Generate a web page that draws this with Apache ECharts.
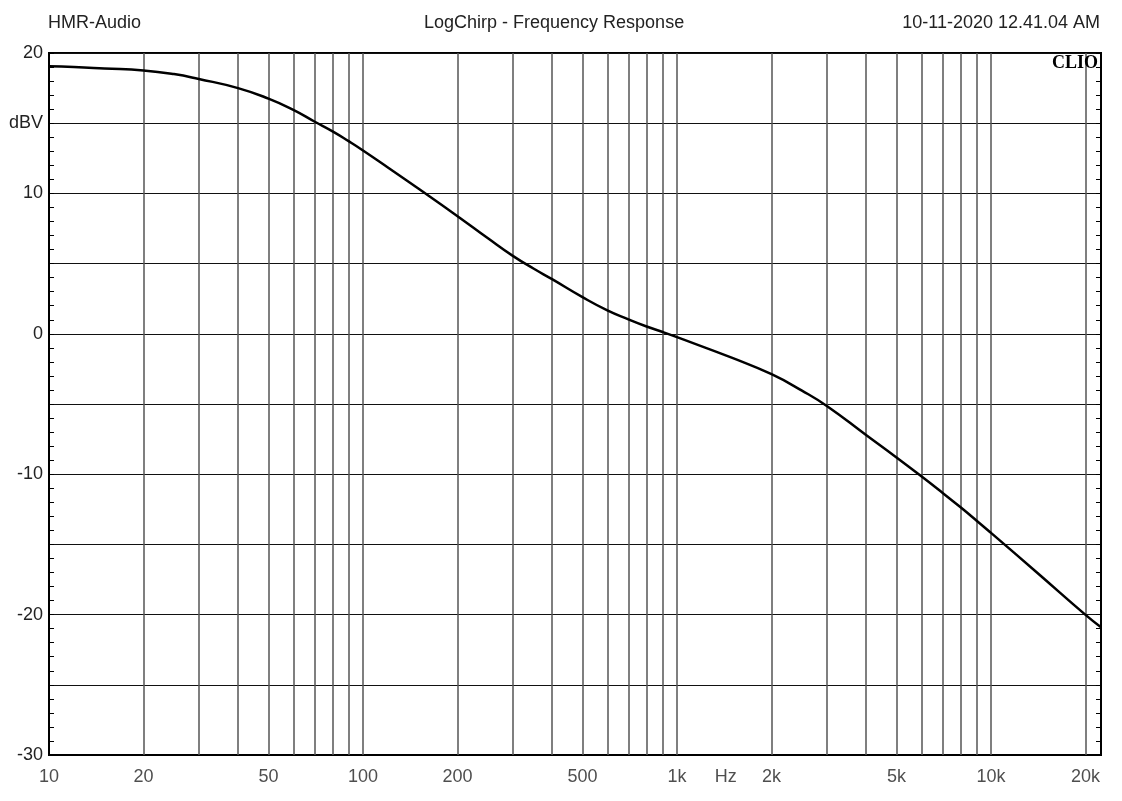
<!DOCTYPE html>
<html><head><meta charset="utf-8">
<script src="https://cdn.jsdelivr.net/npm/echarts@6/dist/echarts.min.js"></script>
<style>html,body{margin:0;padding:0;background:#fff}#c{width:1122px;height:801px}</style>
</head><body><div id="c"></div>
<script>
// Measured response (Hz, dBV)
const freqHz = [10, 12, 15, 20, 25, 30, 40, 50, 60, 70, 80, 90, 100, 120, 150, 200, 250, 300, 350, 400, 500, 600, 700, 800, 900, 1000, 1500, 2000, 2500, 3000, 4000, 5000, 6000, 7000, 8000, 9000, 10000, 14000, 20000, 22400];
const levelDbv = [19.05, 19.0, 18.9, 18.76, 18.5, 18.15, 17.5, 16.75, 15.95, 15.12, 14.42, 13.72, 13.06, 11.85, 10.35, 8.38, 6.8, 5.55, 4.63, 3.89, 2.61, 1.67, 1.03, 0.52, 0.13, -0.24, -1.72, -2.88, -4.05, -5.14, -7.21, -8.81, -10.15, -11.32, -12.36, -13.31, -14.18, -17.0, -20.02, -20.9];

// Axis decorations
const gridFreqs = [20, 30, 40, 50, 60, 70, 80, 90, 100, 200, 300, 400, 500, 600, 700, 800, 900, 1000, 2000, 3000, 4000, 5000, 6000, 7000, 8000, 9000, 10000, 20000];
const xTickFreqs = [10, 20, 50, 100, 200, 500, 1000, 2000, 5000, 10000, 20000];
const xTickLabels = ['10', '20', '50', '100', '200', '500', '1k', '2k', '5k', '10k', '20k'];
const xUnitLabel = 'Hz';
const xUnitFreq = 1430;
const yTickValues = [20, 15, 10, 0, -10, -20, -30];
const yTickLabels = ['20', 'dBV', '10', '0', '-10', '-20', '-30'];
const titleLeft = 'HMR-Audio';
const titleCenter = 'LogChirp - Frequency Response';
const titleRight = '10-11-2020 12.41.04 AM';
const brand = 'CLIO';

const FONT = "'Liberation Sans', Arial, sans-serif";
const TXT = '#222';

const chart = echarts.init(document.getElementById('c'), null, {renderer: 'canvas'});

const labelPoints = xTickFreqs.map((f, i) => ({value: [f, -30], name: xTickLabels[i]}));
labelPoints.push({value: [xUnitFreq, -30], name: xUnitLabel});

function yFmt(v) {
  const i = yTickValues.indexOf(Math.round(v));
  return i >= 0 ? yTickLabels[i] : '';
}

const yCommon = {
  type: 'value', min: -30, max: 20, interval: 5,
  axisLine: {show: true, onZero: false, lineStyle: {color: '#000', width: 2}},
  axisTick: {show: true, inside: true, length: 5, lineStyle: {color: '#000'}},
  minorTick: {show: true, splitNumber: 5, length: 5, lineStyle: {color: '#000', width: 1}}
};

const option = {
  animation: false,
  backgroundColor: '#fff',
  textStyle: {fontFamily: FONT},
  grid: {left: 49, top: 53, width: 1052, height: 702, show: true, borderColor: '#000', borderWidth: 2, containLabel: false},
  graphic: [
    {type: 'text', left: 48, top: 14, style: {text: titleLeft, font: '18px ' + FONT, fill: TXT}},
    {type: 'text', left: 424, top: 14, style: {text: titleCenter, font: '18px ' + FONT, fill: TXT}},
    {type: 'text', right: 22, top: 14, style: {text: titleRight, font: '18px ' + FONT, fill: TXT}},
    {type: 'text', right: 24, top: 54, z: 100, style: {text: brand, font: 'bold 18px "Liberation Serif", "Times New Roman", serif', fill: '#000'}}
  ],
  xAxis: {
    type: 'log', logBase: 10, min: 10, max: 22400,
    axisLabel: {show: false}, axisTick: {show: false}, splitLine: {show: false},
    axisLine: {show: true, onZero: false, lineStyle: {color: '#000', width: 2}}
  },
  yAxis: [
    Object.assign({}, yCommon, {
      position: 'left',
      axisLabel: {show: true, formatter: yFmt, color: TXT, fontSize: 18, fontFamily: FONT, margin: 6, padding: [4, 0, 0, 0]},
      splitLine: {show: true, lineStyle: {color: '#111', width: 1}}
    }),
    Object.assign({}, yCommon, {
      position: 'right',
      axisLabel: {show: false},
      splitLine: {show: false}
    })
  ],
  series: [
    {
      type: 'scatter', z: 1, clip: false, silent: true,
      xAxisIndex: 0, yAxisIndex: 0,
      symbolSize: 1, itemStyle: {color: 'rgba(0,0,0,0)'},
      data: labelPoints,
      label: {show: true, position: 'bottom', distance: 13, formatter: p => p.name, color: TXT, fontSize: 18, fontFamily: FONT},
      markLine: {
        silent: true, symbol: ['none', 'none'], animation: false,
        label: {show: false},
        lineStyle: {type: 'solid', color: '#555', width: 1.5},
        data: gridFreqs.map(f => ({xAxis: f}))
      }
    },
    {
      type: 'line', z: 5, silent: true,
      xAxisIndex: 0, yAxisIndex: 0,
      data: freqHz.map((f, i) => [f, levelDbv[i]]),
      showSymbol: false, smooth: 0.5,
      lineStyle: {color: '#000', width: 2.5}
    }
  ]
};
chart.setOption(option);
</script>
</body></html>
